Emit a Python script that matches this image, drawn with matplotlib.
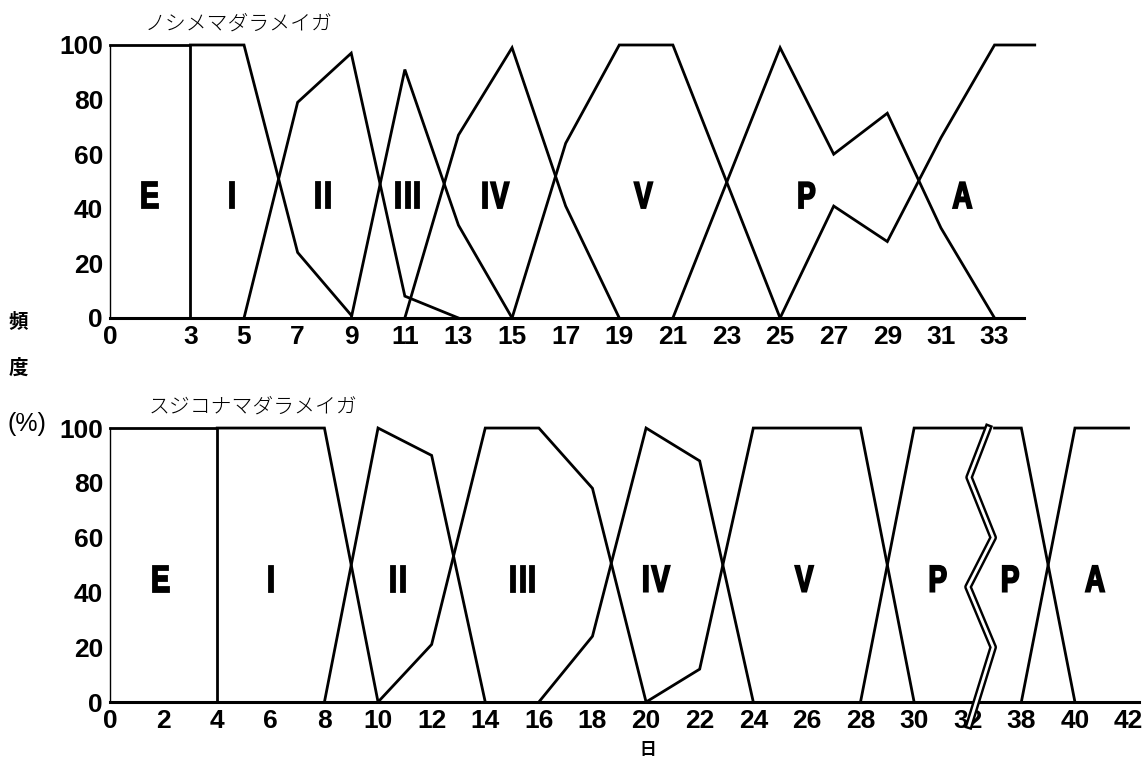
import matplotlib
matplotlib.use("Agg")
import matplotlib.pyplot as plt
from matplotlib.textpath import TextPath
from matplotlib.patches import PathPatch
from matplotlib.path import Path
from matplotlib.font_manager import FontProperties
import matplotlib.transforms as mtransforms

plt.rcParams['font.family'] = ['Liberation Sans', 'Noto Sans CJK JP', 'DejaVu Sans']

# upper panel: ノシメマダラメイガ (day, %)
top_E = ([0, 3, 3], [100, 100, 0])
top_I = ([3, 5, 7, 9], [100, 100, 24, 1])
top_II = ([5, 7, 9, 11, 13], [0, 79, 97, 8, 0])
top_III = ([9, 11, 13, 15], [0, 91, 34, 0])
top_IV = ([11, 13, 15, 17, 19], [0, 67, 99, 41, 0])
top_V = ([15, 17, 19, 21, 25], [0, 64, 100, 100, 0])
top_P = ([21, 25, 27, 29, 31, 33], [0, 99, 60, 75, 33, 0])
top_A = ([25, 27, 29, 31, 33, 34.5], [0, 41, 28, 66, 100, 100])
top_ticks = [0, 3, 5, 7, 9, 11, 13, 15, 17, 19, 21, 23, 25, 27, 29, 31, 33]
top_stages = ['E', 'I', 'II', 'III', 'IV', 'V', 'P', 'A']
top_stage_x = [1.5, 4.55, 7.95, 11.1, 14.4, 19.9, 26.0, 31.8]

# lower panel: スジコナマダラメイガ (day, %), days 33-36 cut out of the axis
bot_E = ([0, 4, 4], [100, 100, 0])
bot_I = ([4, 8, 10], [100, 100, 0])
bot_II = ([8, 10, 12, 14], [0, 100, 90, 0])
bot_III = ([10, 12, 14, 16, 18, 20], [0, 21, 100, 100, 78, 0])
bot_IV = ([16, 18, 20, 22, 24], [0, 24, 100, 88, 0])
bot_V = ([20, 22, 24, 28, 30], [0, 12, 100, 100, 0])
bot_P1 = ([28, 30, 32.8], [0, 100, 100])
bot_P2 = ([37, 38, 40], [100, 100, 0])
bot_A = ([38, 40, 42], [0, 100, 100])
bot_ticks = [0, 2, 4, 6, 8, 10, 12, 14, 16, 18, 20, 22, 24, 26, 28, 30, 32, 38, 40, 42]
bot_stages = ['E', 'I', 'II', 'III', 'IV', 'V', 'P', 'P', 'A']
bot_stage_x = [1.9, 6.0, 10.75, 15.4, 20.4, 25.9, 30.9, 37.6, 40.75]
gap = 4
break_x = [32.76, 32.05, 32.95, 32.01, 32.95, 32.05]
break_y = [100, 82, 60, 42, 20, -8.5]

yticks = [0, 20, 40, 60, 80, 100]

stage_font = FontProperties(family='Liberation Sans', weight='bold')


def pos(days):
    return [d if d <= 33 else d - gap for d in days]


def stage_label(ax, x, y, s, size=27, squeeze=0.74, track=3.5):
    # narrow heavy letters: letter-spaced text path, squeezed and outlined
    parts = []
    x0 = 0
    for ch in s:
        tp = TextPath((x0, 0), ch, size=size, prop=stage_font)
        parts.append(tp)
        x0 = tp.get_extents().x1 + track
    path = Path.make_compound_path(*parts)
    b = path.get_extents()
    cx, cy = (b.x0 + b.x1) / 2, (b.y0 + b.y1) / 2
    tr = (mtransforms.Affine2D().translate(-cx, -cy).scale(squeeze / 72, 1 / 72)
          + fig.dpi_scale_trans + mtransforms.ScaledTranslation(x, y, ax.transData))
    ax.add_patch(PathPatch(path, transform=tr, facecolor='black', edgecolor='black',
                           lw=1.3, joinstyle='miter', clip_on=False))


def style(ax, ticks, labels, xend):
    ax.set_xlim(0, 38.5)
    ax.set_ylim(0, 100)
    for s in ['top', 'right']:
        ax.spines[s].set_visible(False)
    ax.spines['bottom'].set_linewidth(2.2)
    ax.spines['bottom'].set_bounds(0, xend)
    ax.spines['left'].set_linewidth(1.0)
    ax.set_xticks(ticks)
    ax.set_xticklabels(labels)
    ax.set_yticks(yticks)
    ax.tick_params(length=0, labelsize=19, pad=5)
    for t in ax.get_xticklabels() + ax.get_yticklabels():
        t.set_fontweight('bold')


fig = plt.figure(figsize=(11.47, 7.60), dpi=100)
ax1 = fig.add_axes([0.0959, 0.5816, 0.8997, 0.3592])
ax2 = fig.add_axes([0.0959, 0.0763, 0.8997, 0.3605])

for xs, ys in [top_E, top_I, top_II, top_III, top_IV, top_V, top_P, top_A]:
    ax1.plot(xs, ys, color='black', lw=2.0, clip_on=False, solid_joinstyle='miter')
style(ax1, top_ticks, [str(t) for t in top_ticks], 34.1)
for lab, x in zip(top_stages, top_stage_x):
    stage_label(ax1, x, 45, lab)
ax1.text(4.8, 108, 'ノシメマダラメイガ', ha='center', va='center', fontsize=15,
         family=['Noto Sans CJK JP'], fontweight='light')

for xs, ys in [bot_E, bot_I, bot_II, bot_III, bot_IV, bot_V, bot_P1, bot_P2, bot_A]:
    ax2.plot(pos(xs), ys, color='black', lw=2.0, clip_on=False, solid_joinstyle='miter')
style(ax2, pos(bot_ticks), [str(t) for t in bot_ticks], 38.4)
for lab, x in zip(bot_stages, pos(bot_stage_x)):
    stage_label(ax2, x, 45, lab)
ax2.plot(break_x, break_y, color='black', lw=5.5, clip_on=False, zorder=5)
ax2.plot(break_x, break_y, color='white', lw=2.0, clip_on=False, zorder=6)
ax2.text(5.35, 108, 'スジコナマダラメイガ', ha='center', va='center', fontsize=15,
         family=['Noto Sans CJK JP'], fontweight='light')

fig.text(18 / 1147, 1 - 322 / 760, '頻', ha='center', va='center', fontsize=14,
         fontweight='bold', family=['Noto Sans CJK JP'])
fig.text(18 / 1147, 1 - 368 / 760, '度', ha='center', va='center', fontsize=14,
         fontweight='bold', family=['Noto Sans CJK JP'])
fig.text(27 / 1147, 1 - 424 / 760, '(%)', ha='center', va='center', fontsize=18)
fig.text(648 / 1147, 1 - 750 / 760, '日', ha='center', va='center', fontsize=12,
         fontweight='bold', family=['Noto Sans CJK JP'])

fig.savefig('out.png', dpi=100)
